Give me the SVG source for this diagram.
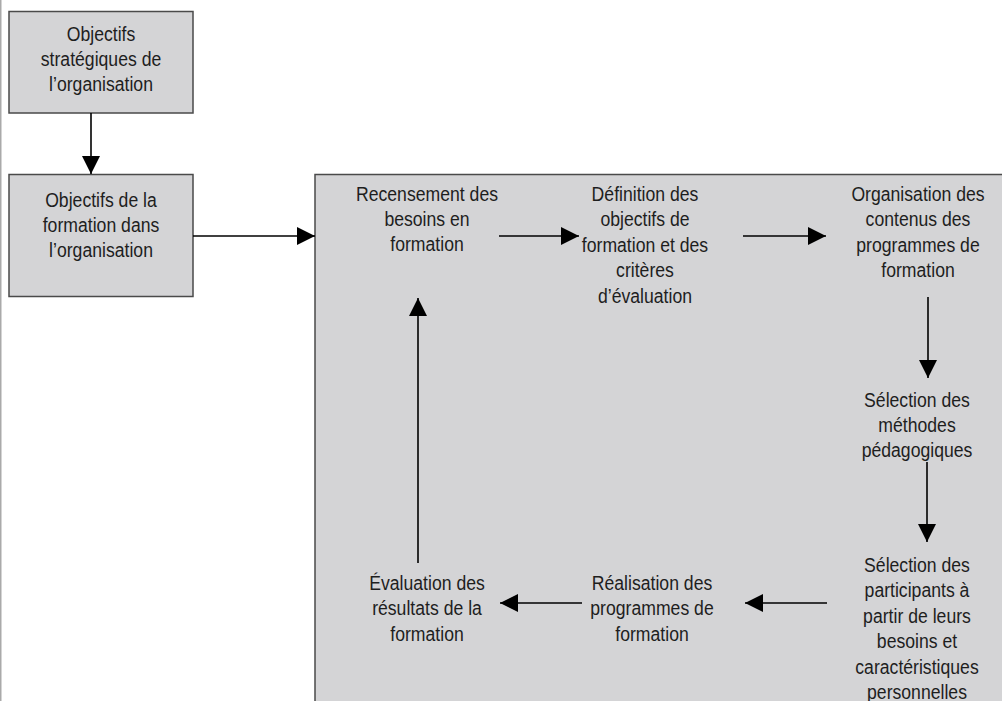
<svg xmlns="http://www.w3.org/2000/svg" width="1002" height="701" viewBox="0 0 1002 701">
<defs>
<style>
.box{fill:#d4d4d6;stroke:#4a4a4a;stroke-width:1.5}
.t{font-family:"Liberation Sans",Arial,sans-serif;font-size:21px;fill:#1e1e1e;text-anchor:middle}
.c{stroke:#000;stroke-width:1.6;fill:none;marker-end:url(#ah)}
</style>
<marker id="ah" markerUnits="userSpaceOnUse" markerWidth="18" markerHeight="18" refX="18" refY="9" orient="auto" viewBox="0 0 18 18">
<path d="M0,0 L18,9 L0,18 z" fill="#000"/>
</marker>
</defs>
<rect x="0" y="0" width="1002" height="701" fill="#fff"/>
<line x1="0.75" y1="0" x2="0.75" y2="701" stroke="#aaa" stroke-width="1.5"/>
<g id="node-objectifs-strategiques">
<rect class="box" x="9" y="11.5" width="184" height="101.5"/>
<g transform="translate(101,0) scale(0.84,1)">
<text class="t" x="0" y="41.5">Objectifs</text>
<text class="t" x="0" y="66.5">stratégiques de</text>
<text class="t" x="0" y="91.5">l’organisation</text>
</g>
</g>
<g id="node-objectifs-formation">
<rect class="box" x="9" y="174.5" width="184" height="122"/>
<g transform="translate(101,0) scale(0.84,1)">
<text class="t" x="0" y="207">Objectifs de la</text>
<text class="t" x="0" y="232">formation dans</text>
<text class="t" x="0" y="257">l’organisation</text>
</g>
</g>
<g id="node-cycle">
<rect class="box" x="315" y="174.5" width="700" height="540"/>
</g>
<g id="node-recensement" transform="translate(427,0) scale(0.84,1)">
<text class="t" x="0" y="201.5">Recensement des</text>
<text class="t" x="0" y="226.5">besoins en</text>
<text class="t" x="0" y="251.5">formation</text>
</g>
<g id="node-definition" transform="translate(645,0) scale(0.84,1)">
<text class="t" x="0" y="201">Définition des</text>
<text class="t" x="0" y="226.5">objectifs de</text>
<text class="t" x="0" y="252">formation et des</text>
<text class="t" x="0" y="277.5">critères</text>
<text class="t" x="0" y="303">d’évaluation</text>
</g>
<g id="node-organisation" transform="translate(918,0) scale(0.84,1)">
<text class="t" x="0" y="201">Organisation des</text>
<text class="t" x="0" y="226.5">contenus des</text>
<text class="t" x="0" y="252">programmes de</text>
<text class="t" x="0" y="277.5">formation</text>
</g>
<g id="node-methodes" transform="translate(917,0) scale(0.84,1)">
<text class="t" x="0" y="407">Sélection des</text>
<text class="t" x="0" y="432">méthodes</text>
<text class="t" x="0" y="457">pédagogiques</text>
</g>
<g id="node-participants" transform="translate(917,0) scale(0.84,1)">
<text class="t" x="0" y="572">Sélection des</text>
<text class="t" x="0" y="597.5">participants à</text>
<text class="t" x="0" y="623">partir de leurs</text>
<text class="t" x="0" y="648.5">besoins et</text>
<text class="t" x="0" y="674">caractéristiques</text>
<text class="t" x="0" y="699">personnelles</text>
</g>
<g id="node-realisation" transform="translate(652,0) scale(0.84,1)">
<text class="t" x="0" y="590">Réalisation des</text>
<text class="t" x="0" y="615.5">programmes de</text>
<text class="t" x="0" y="641">formation</text>
</g>
<g id="node-evaluation" transform="translate(427,0) scale(0.84,1)">
<text class="t" x="0" y="590">Évaluation des</text>
<text class="t" x="0" y="615.5">résultats de la</text>
<text class="t" x="0" y="641">formation</text>
</g>
<g id="connectors">
<line class="c" x1="91" y1="113" x2="91" y2="174"/>
<line class="c" x1="193" y1="236" x2="315" y2="236"/>
<line class="c" x1="499" y1="236" x2="579" y2="236"/>
<line class="c" x1="743" y1="236" x2="826" y2="236"/>
<line class="c" x1="928" y1="297" x2="928" y2="378"/>
<line class="c" x1="927" y1="462" x2="927" y2="542"/>
<line class="c" x1="827" y1="603" x2="745" y2="603"/>
<line class="c" x1="582" y1="603" x2="500" y2="603"/>
<line class="c" x1="418" y1="563" x2="418" y2="298"/>
</g>
</svg>
